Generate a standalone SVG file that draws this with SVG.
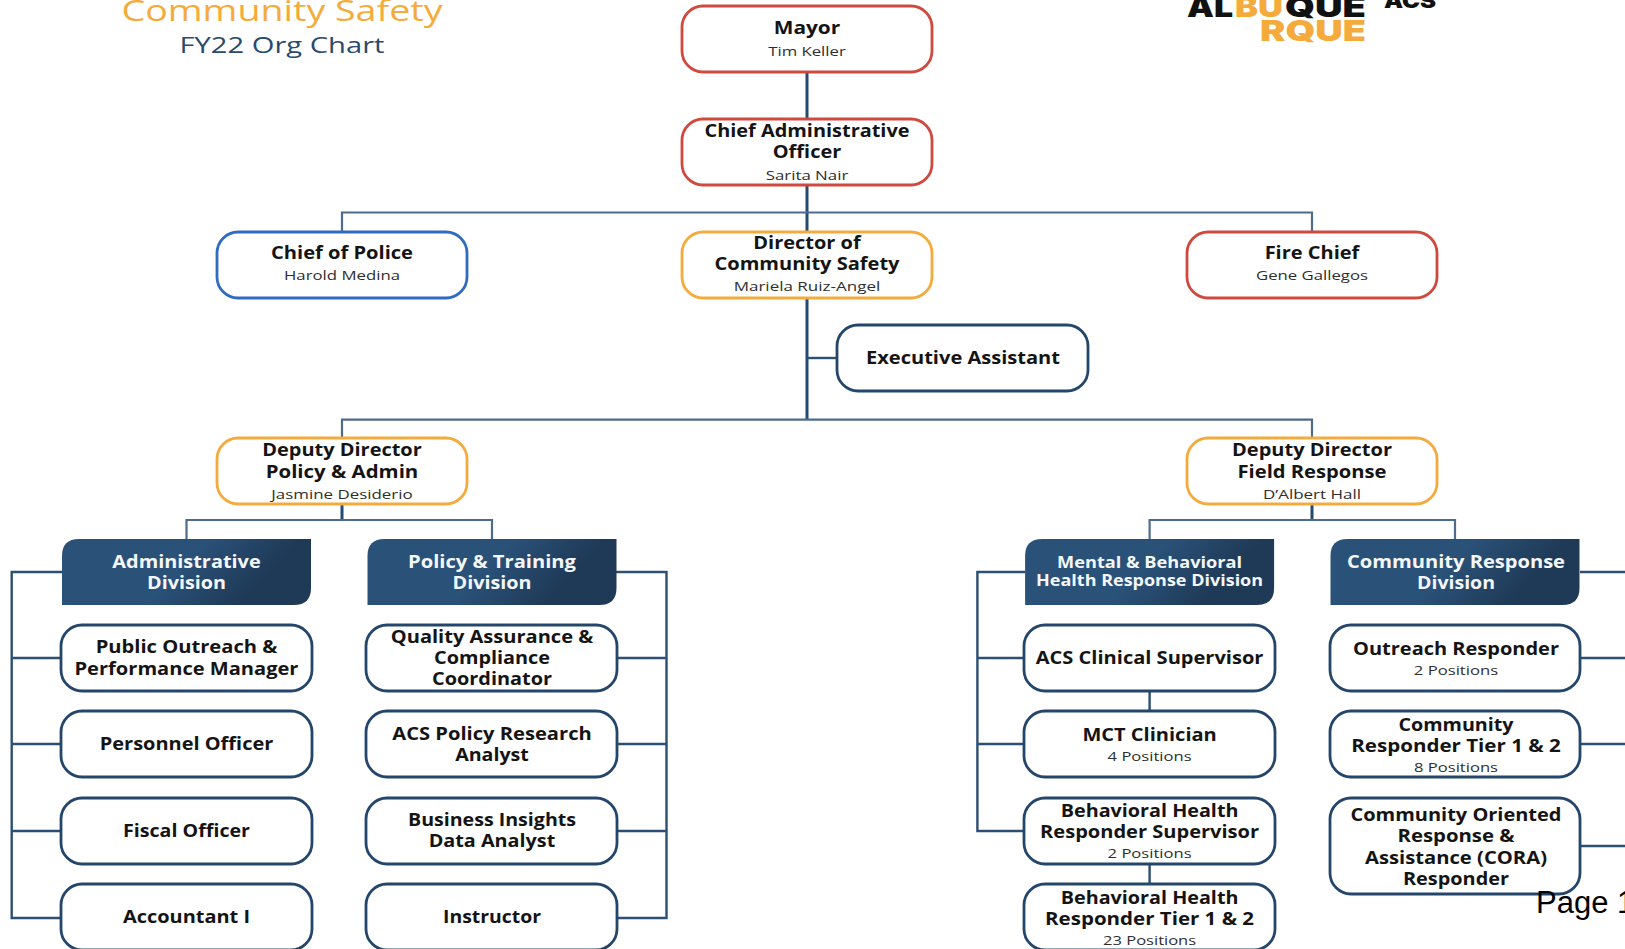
<svg xmlns="http://www.w3.org/2000/svg" width="1625" height="949" viewBox="0 0 1625 949">
<style>
text{text-anchor:middle;font-family:"Open Sans","Noto Sans","Liberation Sans",sans-serif}
.b{font-weight:700;font-size:17.5px;fill:#141414}
.s{font-size:13.5px;fill:#2e2e2e}
.w{font-weight:700;font-size:17.5px;fill:#f4f7fa}
.box{fill:#fff;stroke-width:2.8}
.red{stroke:#d0493f}.org{stroke:#f5ab3c}.blu{stroke:#2f6cbf}.nav{stroke:#24466b}
.conn{fill:none;stroke:#2c4f73;stroke-width:2.4}
.main{fill:none;stroke:#234a70;stroke-width:3}
.thin{fill:none;stroke:#4d6c8c;stroke-width:2.2}
.logo{font-family:Inter,'Liberation Sans',sans-serif;font-weight:900;font-size:29px}
</style>
<defs>
<linearGradient id="div" x1="0" y1="0" x2="1" y2="0.25"><stop offset="0.55" stop-color="#2a5178"/><stop offset="0.9" stop-color="#1f3a57"/></linearGradient>
<path id="divshape" d="M-124.500 33V-16Q-124.500-33-107.500-33H124.500V16Q124.500 33 107.500 33Z" fill="url(#div)"/>
</defs>
<rect width="1625" height="949" fill="#fff"/>
<g id="title">
<text x="282" y="20.700" font-size="30" font-weight="500" fill="#f5ab3c" textLength="321" lengthAdjust="spacingAndGlyphs">Community Safety</text>
<text x="282" y="52.700" font-size="22.500" font-weight="500" fill="#2a4a6b" textLength="205" lengthAdjust="spacingAndGlyphs">FY22 Org Chart</text>
</g>
<g id="logo">
<text class="logo" x="1210" y="16.700" fill="#111" textLength="46" lengthAdjust="spacingAndGlyphs">AL</text>
<text class="logo" x="1259" y="16.700" fill="#f5ab3c" textLength="48" lengthAdjust="spacingAndGlyphs">BU</text>
<text class="logo" x="1325.500" y="16.700" fill="#111" textLength="81" lengthAdjust="spacingAndGlyphs">QUE</text>
<text class="logo" x="1313" y="40.700" fill="#f5ab3c" textLength="106" lengthAdjust="spacingAndGlyphs">RQUE</text>
<text x="1410" y="8" style="font-family:Inter,'Liberation Sans',sans-serif;font-weight:900;font-size:20px" fill="#111" textLength="52" lengthAdjust="spacingAndGlyphs">ACS</text>
</g>
<g id="chart" transform="translate(0 1)">
<g id="connectors">
<path class="main" d="M807 70V118M807 184V231M807 297V418"/>
<path class="thin" d="M342 231V211.500H1312V231"/>
<path class="conn" d="M807 357H837"/>
<path class="thin" d="M342 437V418.700H1312V437"/>
<path class="main" d="M342 503V519M1312 503V519"/>
<path class="thin" d="M186.500 538V519H492V538M1149.600 538V519H1455V538"/>
<path class="conn" d="M62 571H11.700V917H61M11.700 657H61M11.700 743H61M11.700 830H61"/>
<path class="conn" d="M616 571H666.500V917H617M617 657H666.500M617 743H666.500M617 830H666.500"/>
<path class="conn" d="M1025 571H977.400V830H1024M977.400 657H1024M977.400 743H1024"/>
<path class="conn" d="M1149.600 690V710M1149.600 863V883"/>
<path class="conn" d="M1580 571H1625M1580 657H1625M1580 743H1625M1580 845H1625"/>
</g>
<g id="mayor"><rect class="box red" x="682" y="5" width="250" height="66" rx="21"/>
<text class="b" x="807" y="33.300" textLength="66.500" lengthAdjust="spacingAndGlyphs">Mayor</text><text class="s" x="807" y="55" textLength="77.500" lengthAdjust="spacingAndGlyphs">Tim Keller</text></g>
<g id="cao"><rect class="box red" x="682" y="118" width="250" height="66" rx="21"/>
<text class="b" x="807" y="135.700" textLength="205" lengthAdjust="spacingAndGlyphs">Chief Administrative</text><text class="b" x="807" y="157" textLength="68.500" lengthAdjust="spacingAndGlyphs">Officer</text><text class="s" x="807" y="178.700" textLength="82.600" lengthAdjust="spacingAndGlyphs">Sarita Nair</text></g>
<g id="police"><rect class="box blu" x="217" y="231" width="250" height="66" rx="21"/>
<text class="b" x="342" y="258" textLength="142" lengthAdjust="spacingAndGlyphs">Chief of Police</text><text class="s" x="342" y="279.300" textLength="116" lengthAdjust="spacingAndGlyphs">Harold Medina</text></g>
<g id="director"><rect class="box org" x="682" y="231" width="250" height="66" rx="21"/>
<text class="b" x="807" y="247.700" textLength="107.400" lengthAdjust="spacingAndGlyphs">Director of</text><text class="b" x="807" y="269" textLength="185" lengthAdjust="spacingAndGlyphs">Community Safety</text><text class="s" x="807" y="290.300" textLength="146.700" lengthAdjust="spacingAndGlyphs">Mariela Ruiz-Angel</text></g>
<g id="fire"><rect class="box red" x="1187" y="231" width="250" height="66" rx="21"/>
<text class="b" x="1312" y="258" textLength="94.700" lengthAdjust="spacingAndGlyphs">Fire Chief</text><text class="s" x="1312" y="279.300" textLength="112" lengthAdjust="spacingAndGlyphs">Gene Gallegos</text></g>
<g id="exec"><rect class="box nav" x="837" y="324" width="251" height="66" rx="21"/>
<text class="b" x="963" y="363" textLength="194" lengthAdjust="spacingAndGlyphs">Executive Assistant</text></g>
<g id="deputy-policy"><rect class="box org" x="217" y="437" width="250" height="66" rx="21"/>
<text class="b" x="342" y="455.300" textLength="159.600" lengthAdjust="spacingAndGlyphs">Deputy Director</text><text class="b" x="342" y="476.700" textLength="152.600" lengthAdjust="spacingAndGlyphs">Policy &amp; Admin</text><text class="s" x="342" y="497.700" textLength="141.400" lengthAdjust="spacingAndGlyphs">Jasmine Desiderio</text></g>
<g id="deputy-field"><rect class="box org" x="1187" y="437" width="250" height="66" rx="21"/>
<text class="b" x="1312" y="455.300" textLength="160" lengthAdjust="spacingAndGlyphs">Deputy Director</text><text class="b" x="1312" y="476.700" textLength="149" lengthAdjust="spacingAndGlyphs">Field Response</text><text class="s" x="1312" y="497.700" textLength="98" lengthAdjust="spacingAndGlyphs">D’Albert Hall</text></g>
<g id="div-admin"><use href="#divshape" x="186.500" y="571"/>
<text class="w" x="186.500" y="567" textLength="148.300" lengthAdjust="spacingAndGlyphs">Administrative</text><text class="w" x="186.500" y="588.300" textLength="79" lengthAdjust="spacingAndGlyphs">Division</text></g>
<g id="div-policy"><use href="#divshape" x="492" y="571"/>
<text class="w" x="492" y="567" textLength="168" lengthAdjust="spacingAndGlyphs">Policy &amp; Training</text><text class="w" x="492" y="588.300" textLength="79" lengthAdjust="spacingAndGlyphs">Division</text></g>
<g id="div-mental"><use href="#divshape" x="1149.600" y="571"/>
<text class="w" x="1149.600" y="566.700" style="font-size:15.500px" textLength="185" lengthAdjust="spacingAndGlyphs">Mental &amp; Behavioral</text><text class="w" x="1149.600" y="585.300" style="font-size:15.500px" textLength="227" lengthAdjust="spacingAndGlyphs">Health Response Division</text></g>
<g id="div-community"><use href="#divshape" x="1455" y="571"/>
<text class="w" x="1456" y="567" textLength="218" lengthAdjust="spacingAndGlyphs">Community Response</text><text class="w" x="1456" y="588.300" textLength="78" lengthAdjust="spacingAndGlyphs">Division</text></g>
<g id="outreach-mgr"><rect class="box nav" x="61" y="624" width="251" height="66" rx="21"/>
<text class="b" x="186.500" y="652.300" textLength="181.700" lengthAdjust="spacingAndGlyphs">Public Outreach &amp;</text><text class="b" x="186.500" y="673.700" textLength="224" lengthAdjust="spacingAndGlyphs">Performance Manager</text></g>
<g id="personnel"><rect class="box nav" x="61" y="710" width="251" height="66" rx="21"/>
<text class="b" x="186.500" y="749.300" textLength="173.500" lengthAdjust="spacingAndGlyphs">Personnel Officer</text></g>
<g id="fiscal"><rect class="box nav" x="61" y="797" width="251" height="66" rx="21"/>
<text class="b" x="186.500" y="835.700" textLength="127" lengthAdjust="spacingAndGlyphs">Fiscal Officer</text></g>
<g id="accountant"><rect class="box nav" x="61" y="883" width="251" height="66" rx="21"/>
<text class="b" x="186.500" y="922.300" textLength="127" lengthAdjust="spacingAndGlyphs">Accountant I</text></g>
<g id="qa"><rect class="box nav" x="366" y="624" width="251" height="66" rx="21"/>
<text class="b" x="492" y="641.700" textLength="202.500" lengthAdjust="spacingAndGlyphs">Quality Assurance &amp;</text><text class="b" x="492" y="663" textLength="116" lengthAdjust="spacingAndGlyphs">Compliance</text><text class="b" x="492" y="684.300" textLength="120" lengthAdjust="spacingAndGlyphs">Coordinator</text></g>
<g id="research"><rect class="box nav" x="366" y="710" width="251" height="66" rx="21"/>
<text class="b" x="492" y="739" textLength="199.500" lengthAdjust="spacingAndGlyphs">ACS Policy Research</text><text class="b" x="492" y="760" textLength="73.700" lengthAdjust="spacingAndGlyphs">Analyst</text></g>
<g id="insights"><rect class="box nav" x="366" y="797" width="251" height="66" rx="21"/>
<text class="b" x="492" y="825" textLength="168" lengthAdjust="spacingAndGlyphs">Business Insights</text><text class="b" x="492" y="846.300" textLength="126.600" lengthAdjust="spacingAndGlyphs">Data Analyst</text></g>
<g id="instructor"><rect class="box nav" x="366" y="883" width="251" height="66" rx="21"/>
<text class="b" x="492" y="922.300" textLength="98" lengthAdjust="spacingAndGlyphs">Instructor</text></g>
<g id="clinical"><rect class="box nav" x="1024" y="624" width="251" height="66" rx="21"/>
<text class="b" x="1149.600" y="663" textLength="227.700" lengthAdjust="spacingAndGlyphs">ACS Clinical Supervisor</text></g>
<g id="mct"><rect class="box nav" x="1024" y="710" width="251" height="66" rx="21"/>
<text class="b" x="1149.600" y="740" textLength="134.400" lengthAdjust="spacingAndGlyphs">MCT Clinician</text><text class="s" x="1149.600" y="760" textLength="84" lengthAdjust="spacingAndGlyphs">4 Positions</text></g>
<g id="bh-supervisor"><rect class="box nav" x="1024" y="797" width="251" height="66" rx="21"/>
<text class="b" x="1149.600" y="816" textLength="177.700" lengthAdjust="spacingAndGlyphs">Behavioral Health</text><text class="b" x="1149.600" y="837.300" textLength="219" lengthAdjust="spacingAndGlyphs">Responder Supervisor</text><text class="s" x="1149.600" y="857.300" textLength="84" lengthAdjust="spacingAndGlyphs">2 Positions</text></g>
<g id="bh-tier"><rect class="box nav" x="1024" y="883" width="251" height="66" rx="21"/>
<text class="b" x="1149.600" y="902.700" textLength="177.700" lengthAdjust="spacingAndGlyphs">Behavioral Health</text><text class="b" x="1149.600" y="924" textLength="209" lengthAdjust="spacingAndGlyphs">Responder Tier 1 &amp; 2</text><text class="s" x="1149.600" y="944.300" textLength="93" lengthAdjust="spacingAndGlyphs">23 Positions</text></g>
<g id="outreach-resp"><rect class="box nav" x="1330" y="624" width="250" height="66" rx="21"/>
<text class="b" x="1456" y="653.700" textLength="206" lengthAdjust="spacingAndGlyphs">Outreach Responder</text><text class="s" x="1456" y="674" textLength="84.400" lengthAdjust="spacingAndGlyphs">2 Positions</text></g>
<g id="cr-tier"><rect class="box nav" x="1330" y="710" width="250" height="66" rx="21"/>
<text class="b" x="1456" y="730" textLength="115" lengthAdjust="spacingAndGlyphs">Community</text><text class="b" x="1456" y="750.700" textLength="209.500" lengthAdjust="spacingAndGlyphs">Responder Tier 1 &amp; 2</text><text class="s" x="1456" y="771" textLength="84" lengthAdjust="spacingAndGlyphs">8 Positions</text></g>
<g id="cora"><rect class="box nav" x="1330" y="797" width="250" height="96" rx="21"/>
<text class="b" x="1456" y="820" textLength="211" lengthAdjust="spacingAndGlyphs">Community Oriented</text><text class="b" x="1456" y="841.300" textLength="117" lengthAdjust="spacingAndGlyphs">Response &amp;</text><text class="b" x="1456" y="862.700" textLength="182" lengthAdjust="spacingAndGlyphs">Assistance (CORA)</text><text class="b" x="1456" y="883.700" textLength="106" lengthAdjust="spacingAndGlyphs">Responder</text></g>
</g>
<text x="1536" y="913" style="text-anchor:start;font-family:'Liberation Sans',sans-serif" font-size="31" fill="#000">Page 1</text>
</svg>
